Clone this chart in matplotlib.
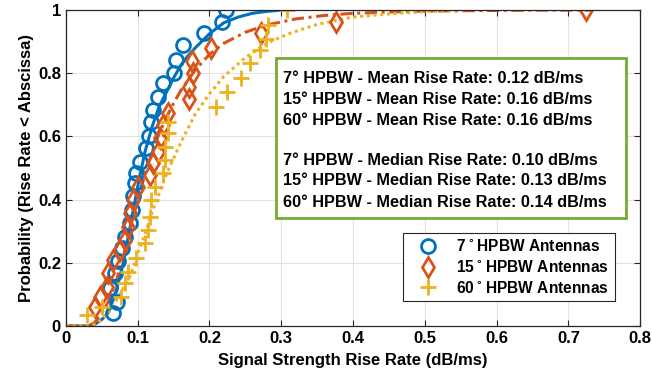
import numpy as np
import matplotlib
matplotlib.use("Agg")
import matplotlib.pyplot as plt
from matplotlib.patches import Rectangle

plt.rcParams['font.family'] = ['Liberation Sans', 'DejaVu Sans']
plt.rcParams['font.weight'] = 'bold'
plt.rcParams['mathtext.default'] = 'bf'

x7 = [0.066, 0.071, 0.061, 0.068, 0.072, 0.078, 0.082, 0.089, 0.092, 0.094, 0.096, 0.098, 0.103,
      0.112, 0.116, 0.119, 0.121, 0.128, 0.135, 0.150, 0.154, 0.163, 0.192, 0.218, 0.223]
y7 = [0.04, 0.077, 0.12, 0.167, 0.205, 0.247, 0.282, 0.326, 0.367, 0.41, 0.452, 0.484, 0.52,
      0.563, 0.60, 0.646, 0.684, 0.726, 0.77, 0.80, 0.842, 0.889, 0.927, 0.963, 1.0]

x15 = [0.040, 0.047, 0.057, 0.059, 0.066, 0.075, 0.082, 0.086, 0.089, 0.093, 0.100, 0.117, 0.122,
       0.128, 0.131, 0.135, 0.142, 0.172, 0.172, 0.177, 0.176, 0.202, 0.272, 0.376, 0.725]
y15 = [0.06, 0.093, 0.124, 0.167, 0.209, 0.24, 0.272, 0.314, 0.357, 0.40, 0.44, 0.478, 0.515,
       0.55, 0.595, 0.636, 0.674, 0.72, 0.757, 0.80, 0.839, 0.88, 0.926, 0.963, 1.0]

x60 = [0.029, 0.050, 0.077, 0.082, 0.086, 0.098, 0.110, 0.114, 0.117, 0.119, 0.124, 0.135, 0.138,
       0.138, 0.142, 0.142, 0.209, 0.225, 0.244, 0.256, 0.270, 0.279, 0.281, 0.308]
y60 = [0.035, 0.06, 0.093, 0.135, 0.17, 0.216, 0.262, 0.304, 0.346, 0.399, 0.44, 0.484, 0.525,
       0.567, 0.61, 0.646, 0.694, 0.742, 0.784, 0.832, 0.873, 0.91, 0.953, 1.0]

# fitted curves
fx7 = [0, 0.03, 0.04, 0.05, 0.06, 0.07, 0.08, 0.09, 0.10, 0.11, 0.12, 0.13, 0.14, 0.15, 0.16,
       0.17, 0.18, 0.20, 0.22, 0.24, 0.26, 0.28, 0.30]
fy7 = [0, 0.0, 0.005, 0.02, 0.045, 0.11, 0.2, 0.32, 0.44, 0.55, 0.63, 0.695, 0.74, 0.785, 0.825,
       0.855, 0.88, 0.925, 0.96, 0.978, 0.99, 0.996, 1.0]

fx15 = [0, 0.03, 0.04, 0.05, 0.06, 0.07, 0.08, 0.09, 0.10, 0.11, 0.12, 0.13, 0.14, 0.15, 0.16,
        0.18, 0.20, 0.22, 0.25, 0.28, 0.32, 0.36, 0.40, 0.45, 0.50, 0.55, 0.60, 0.65, 0.73]
fy15 = [0, 0.0, 0.01, 0.04, 0.08, 0.14, 0.22, 0.31, 0.40, 0.48, 0.55, 0.61, 0.66, 0.705, 0.745,
        0.81, 0.86, 0.895, 0.93, 0.953, 0.972, 0.983, 0.99, 0.994, 0.997, 0.998, 0.999, 1.0, 1.0]

fx60 = [0, 0.03, 0.04, 0.05, 0.06, 0.07, 0.08, 0.09, 0.10, 0.11, 0.12, 0.13, 0.14, 0.15, 0.16,
        0.18, 0.20, 0.22, 0.25, 0.28, 0.31, 0.35, 0.40, 0.45, 0.50, 0.547]
fy60 = [0, 0.0, 0.005, 0.02, 0.045, 0.08, 0.12, 0.16, 0.23, 0.29, 0.36, 0.42, 0.48, 0.53, 0.58,
        0.67, 0.735, 0.79, 0.85, 0.895, 0.925, 0.955, 0.978, 0.988, 0.995, 0.998]

info = ["7\u00b0 HPBW - Mean Rise Rate: 0.12 dB/ms",
        "15\u00b0 HPBW - Mean Rise Rate: 0.16 dB/ms",
        "60\u00b0 HPBW - Mean Rise Rate: 0.16 dB/ms",
        "7\u00b0 HPBW - Median Rise Rate: 0.10 dB/ms",
        "15\u00b0 HPBW - Median Rise Rate: 0.13 dB/ms",
        "60\u00b0 HPBW - Median Rise Rate: 0.14 dB/ms"]
info_y = [0.785, 0.718, 0.652, 0.525, 0.459, 0.392]

c1, c2, c3 = '#0072BD', '#D95319', '#EDB120'

fig = plt.figure(figsize=(6.52, 3.89), dpi=100)
ax = fig.add_axes([0.101, 0.162, 0.881, 0.812])

ax.plot(fx7, fy7, color=c1, lw=2.2)
ax.plot(fx15, fy15, color=c2, lw=2.2, ls=(0, (4, 1.5, 1, 1.5)))
ax.plot(fx60, fy60, color=c3, lw=2.2, ls=(0, (1, 1.2)))

ax.plot(x7, y7, 'o', ms=10, mfc='none', mec=c1, mew=2, label=r'7$^\circ$HPBW Antennas')
ax.plot(x15, y15, 'd', ms=10, mfc='none', mec=c2, mew=2, label=r'15$^\circ$HPBW Antennas')
ax.plot(x60, y60, '+', ms=11, mec=c3, mew=2, label=r'60$^\circ$HPBW Antennas')

ax.set_xlim(0, 0.8)
ax.set_ylim(0, 1)
ax.set_xticks(np.arange(0, 0.81, 0.1))
ax.set_yticks(np.arange(0, 1.01, 0.2))
ax.set_xticklabels(['0', '0.1', '0.2', '0.3', '0.4', '0.5', '0.6', '0.7', '0.8'])
ax.set_yticklabels(['0', '0.2', '0.4', '0.6', '0.8', '1'])
ax.tick_params(direction='in', top=True, right=True, labelsize=12, length=4, color='#262626')
for lab in ax.get_xticklabels() + ax.get_yticklabels():
    lab.set_fontweight('bold')
for s in ax.spines.values():
    s.set_color('#262626')
    s.set_linewidth(0.9)
ax.grid(True, color='#e3e3e3', lw=0.8)
ax.set_axisbelow(True)

ax.set_xlabel('Signal Strength Rise Rate (dB/ms)', fontsize=12, fontweight='bold', labelpad=5)
ax.set_ylabel('Probability (Rise Rate < Abscissa)', fontsize=12, fontweight='bold', labelpad=3)

ax.add_patch(Rectangle((0.366, 0.342), 0.61, 0.506, transform=ax.transAxes,
                       fc='white', ec='#77AC30', lw=2, zorder=5))
for t, yy in zip(info, info_y):
    ax.text(0.378, yy, t, transform=ax.transAxes, fontsize=11.7, fontweight='bold',
            va='center', ha='left', zorder=6)

leg = ax.legend(loc='lower right', bbox_to_anchor=(0.969, 0.054),
                prop={'weight': 'bold', 'size': 11.2}, fancybox=False, framealpha=1,
                edgecolor='#262626', handlelength=2.6, borderpad=0.35, labelspacing=0.3,
                handletextpad=0.5)
leg.get_frame().set_linewidth(0.8)
leg.set_zorder(7)

fig.savefig('out.png', dpi=100)
